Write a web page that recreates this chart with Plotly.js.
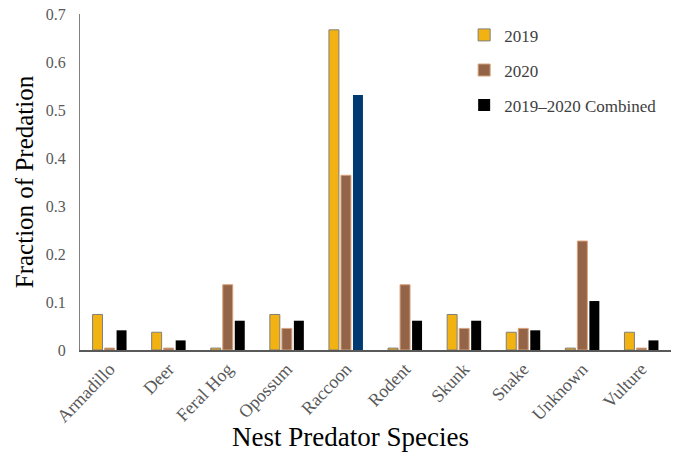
<!DOCTYPE html>
<html>
<head>
<meta charset="utf-8">
<script src="https://cdn.plot.ly/plotly-3.0.1.min.js"></script>
<style>html,body{margin:0;padding:0;background:#fff;}#chart{width:674px;height:459px;}</style>
</head>
<body>
<div id="chart"></div>
<script>
const categories = ["Armadillo","Deer","Feral Hog","Opossum","Raccoon","Rodent","Skunk","Snake","Unknown","Vulture"];
const values2019 = [0.074,0.037,0.004,0.074,0.667,0.004,0.074,0.037,0.004,0.037];
const values2020 = [0.004,0.004,0.136,0.045,0.364,0.136,0.045,0.045,0.227,0.004];
const valuesCombined = [0.041,0.020,0.061,0.061,0.531,0.061,0.061,0.041,0.102,0.020];
const combinedColors = categories.map(c => c === "Raccoon" ? "#003a70" : "#000000");
const xTitle = "Nest Predator Species";
const yTitle = "Fraction of Predation";

const serif = "'Liberation Serif', serif";
const traces = [
  {type:"bar", name:"2019", x:categories, y:values2019, legendgroup:"a",
   marker:{color:"#f2b212", line:{color:"#7f7f7f", width:1}}},
  {type:"bar", name:"2020", x:categories, y:values2020, legendgroup:"b",
   marker:{color:"#936448", line:{color:"#d9a27a", width:1}}},
  {type:"bar", name:"2019–2020 Combined", x:categories, y:valuesCombined, legendgroup:"c",
   marker:{color:combinedColors, line:{width:0}}}
];
const layout = {
  width:674, height:459,
  margin:{l:80, r:3, t:14, b:109},
  paper_bgcolor:"#fff", plot_bgcolor:"#fff",
  barmode:"group", bargap:0.39, bargroupgap:0.17,
  font:{family:serif, color:"#595959"},
  showlegend:true,
  legend:{x:0.65, y:0.99, xanchor:"left", yanchor:"top", tracegroupgap:10,
          font:{family:serif, size:17, color:"#404040"}, bgcolor:"rgba(0,0,0,0)", itemwidth:30},
  xaxis:{type:"category", tickangle:-46, tickfont:{family:serif, size:18, color:"#595959"},
         showline:true, linecolor:"#595959", linewidth:1.5, ticks:"", showgrid:false},
  yaxis:{range:[0,0.7], dtick:0.1, showgrid:false, zeroline:false, showline:true,
         linecolor:"#7f7f7f", linewidth:1, ticks:"outside", ticklen:10, tickcolor:"rgba(0,0,0,0)",
         tickfont:{family:serif, size:16, color:"#595959"},
         title:{text:yTitle, font:{family:serif, size:25, color:"#000"}, standoff:5}},
  annotations:[{text:xTitle, xref:"paper", yref:"paper", x:0.4585, y:-0.259,
                xanchor:"center", yanchor:"middle", showarrow:false,
                font:{family:serif, size:27, color:"#000"}}]
};
Plotly.newPlot("chart", traces, layout, {displayModeBar:false, staticPlot:true});
</script>
</body>
</html>
